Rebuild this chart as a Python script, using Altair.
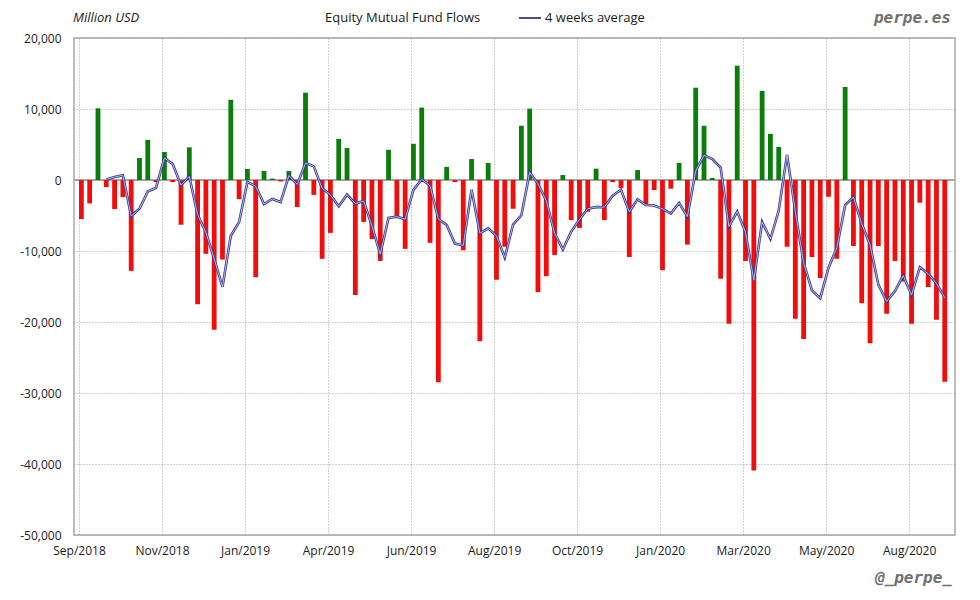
import datetime as dt
import pandas as pd
import altair as alt

# Weekly equity mutual fund flows, million USD
flows = [
    -5500, -3300, 10100, -1000, -4100, -2400, -12800, 3100, 5650, -300,
    3950, -300, -6300, 4600, -17500, -10400, -21100, -11200, 11300, -2700,
    1550, -13700, 1270, 200, -200, 1270, -3800, 12300, -2100, -11100,
    -7450, 5800, 4500, -16200, -5900, -8300, -11400, 4250, -5200, -9700,
    5100, 10200, -8850, -28500, 1850, -300, -9900, 2950, -22700, 2400,
    -14050, -9400, -4050, 7640, 10050, -15800, -13550, -10550, 700, -5650,
    -6750, -4480, 1600, -5650, -300, -1130, -10850, 1400, -3540, -1410,
    -12700, -1220, 2400, -9100, 13000, 7640, 280, -13900, -20250, 16100,
    -11400, -40900, 12550, 6500, 4650, -9400, -19550, -22400, -10850, -13800,
    -2360, -11100, 13100, -9300, -17350, -23000, -9300, -18850, -11400, -14300,
    -20250, -3200, -15080, -19700, -28400,
]
first_week = "2018-09-05"
dates = [d.strftime("%Y-%m-%d") for d in pd.date_range(first_week, periods=len(flows), freq="7D")]

# axis tick dates (every 10 weeks) and y ticks
tick_start = dt.date(2018, 9, 3)
tick_dates = [tick_start + dt.timedelta(days=70 * k) for k in range(11)]
y_ticks = [-50000, -40000, -30000, -20000, -10000, 0, 10000, 20000]

df = pd.DataFrame({"date": dates, "flow": flows})

GREEN = "#0a7d0a"
RED = "#f20d0d"
NAVY = "#383890"
FONT = "Open Sans"

x_enc = alt.X(
    "date:T",
    scale=alt.Scale(
        type="utc",
        domain=[alt.DateTime(year=2018, month=9, date=3, utc=True),
                alt.DateTime(year=2020, month=9, date=6, hours=10, utc=True)],
    ),
    axis=alt.Axis(
        values=[alt.DateTime(year=d.year, month=d.month, date=d.day, utc=True) for d in tick_dates],
        format="%b/%Y",
        title=None,
        labelPadding=10,
    ),
)
y_enc = alt.Y(
    "flow:Q",
    scale=alt.Scale(domain=[-50000, 20000], nice=False, zero=False),
    axis=alt.Axis(
        values=y_ticks,
        labelExpr="(datum.value < 0 ? '-' : '') + format(abs(datum.value), ',.0f')",
        title=None,
        labelPadding=13,
    ),
)

base = alt.Chart(df)

bars = base.mark_bar(size=4.8).encode(
    x=x_enc,
    y=y_enc,
    color=alt.condition(alt.datum.flow >= 0, alt.value(GREEN), alt.value(RED)),
)

zero = alt.Chart(pd.DataFrame({"flow": [0]})).mark_rule(color="#a6a6a6", strokeWidth=2).encode(
    y=alt.Y("flow:Q")
)

avg = (
    base.transform_window(
        avg="mean(flow)", rn="row_number()", frame=[-3, 0], sort=[{"field": "date"}]
    )
    .transform_filter("datum.rn >= 4")
)
line_outer = avg.mark_line(color=NAVY, strokeWidth=2.6).encode(x="date:T", y="avg:Q")
line_inner = avg.mark_line(color="#c4c4ee", strokeWidth=0.9).encode(x="date:T", y="avg:Q")


def label(txt, x, y, align="left", size=13, style="normal", weight="normal", color="#1a1a1a", font=FONT):
    return alt.Chart(pd.DataFrame({"t": [txt]})).mark_text(
        align=align, baseline="middle", fontSize=size, fontStyle=style,
        fontWeight=weight, color=color, font=font,
    ).encode(x=alt.value(x), y=alt.value(y), text="t:N")


units = label("Million USD", -1, -20, style="italic", size=13)
title = label("Equity Mutual Fund Flows", 251, -20, size=13)
legend_line = alt.Chart(pd.DataFrame({"a": [0]})).mark_rule(color=NAVY, strokeWidth=1.8).encode(
    x=alt.value(445), x2=alt.value(467), y=alt.value(-20)
)
legend_text = label("4 weeks average", 471, -20, size=13)
site = label("perpe.es", 877, -20, align="right", size=16, style="italic", weight="bold",
             color="#707070", font="DejaVu Sans Mono")
handle = label("@_perpe_", 878, 540, align="right", size=16, style="italic", weight="bold",
               color="#707070", font="DejaVu Sans Mono")

chart = (
    alt.layer(zero, bars, line_outer, line_inner, units, title, legend_line, legend_text, site, handle)
    .properties(
        width=881,
        height=497,
        autosize=alt.AutoSizeParams(type="none"),
        padding={"left": 66, "top": 30, "right": 10, "bottom": 62},
        background="white",
    )
    .configure_view(stroke="#a8a8a8", strokeWidth=1.5)
    .configure_axis(
        grid=True,
        gridColor="#a0a0a0",
        gridDash=[1, 2],
        gridWidth=1,
        domain=False,
        ticks=False,
        labelFont=FONT,
        labelFontSize=12,
        labelColor="#1a1a1a",
    )
)

chart.save("out.html", embed_options={"renderer": "svg", "actions": False})
